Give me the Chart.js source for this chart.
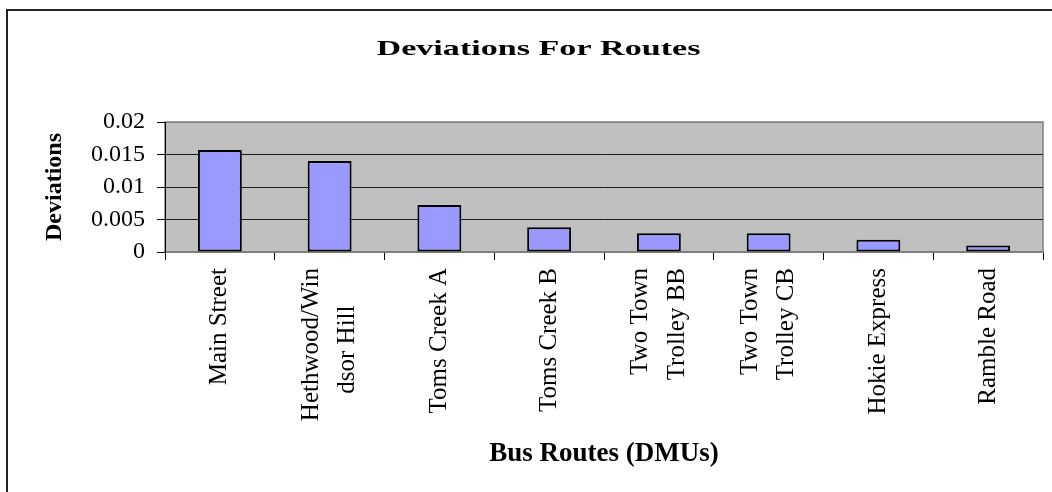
<!DOCTYPE html>
<html><head><meta charset="utf-8">
<script src="https://cdn.jsdelivr.net/npm/chart.js@4.4.1/dist/chart.umd.min.js"></script>
<style>
html,body{margin:0;padding:0;background:#fff;width:1052px;height:492px;overflow:hidden;}
#frame{position:absolute;left:6px;top:9px;width:1100px;height:600px;border:2px solid #222;box-sizing:border-box;}
#c{position:absolute;left:0;top:0;}
</style></head><body>
<div id="frame"></div>
<canvas id="c" width="1052" height="492"></canvas>
<script>
// ---- data ----
const chartTitle = 'Deviations For Routes';
const xAxisTitle = 'Bus Routes (DMUs)';
const yAxisTitle = 'Deviations';
const categories = ['Main Street', ['Hethwood/Win', 'dsor Hill      '], 'Toms Creek A', 'Toms Creek B',
  ['Two Town', 'Trolley BB'], ['Two Town', 'Trolley CB'], 'Hokie Express', 'Ramble Road'];
const deviations = [0.0157, 0.014, 0.00725, 0.0038, 0.0029, 0.0029, 0.0019, 0.001];
const yTickLabels = ['0', '0.005', '0.01', '0.015', '0.02'];
const yMin = 0, yMax = 0.02, yStep = 0.005;

// ---- style ----
const SERIF = "'Liberation Serif', 'Times New Roman', serif";
const TITLE_STRETCH = 1.55;
const TITLE_SHIFT = -1;

const plotBg = {
  id: 'plotBg',
  beforeDraw(chart) {
    const {ctx, chartArea: a} = chart;
    ctx.save();
    ctx.fillStyle = '#c0c0c0';
    ctx.fillRect(a.left, a.top, a.right - a.left, a.bottom - a.top);
    ctx.strokeStyle = '#808080';
    ctx.lineWidth = 1.5;
    ctx.strokeRect(a.left, a.top, a.right - a.left, a.bottom - a.top);
    ctx.restore();
    // center multi-line rotated category labels on their tick
    const xs = chart.scales.x;
    xs.getLabelItems().forEach((it) => {
      if (Array.isArray(it.label) && it.label.length > 1 && !it._centered) {
        it.textOffset -= it.font.lineHeight * (it.label.length - 1) / 2;
        it._centered = true;
      }
    });
  }
};
const titleStretch = {
  id: 'titleStretch',
  afterInit(chart) {
    const tb = chart.titleBlock;
    if (!tb) return;
    const orig = tb.draw;
    tb.draw = function () {
      const c = this.ctx;
      const mid = (this.left + this.right) / 2;
      c.save();
      c.translate(mid + TITLE_SHIFT, 0);
      c.scale(TITLE_STRETCH, 1);
      c.translate(-mid, 0);
      orig.apply(this, arguments);
      c.restore();
    };
  }
};

new Chart(document.getElementById('c'), {
  type: 'bar',
  data: {
    labels: categories,
    datasets: [{
      data: deviations,
      backgroundColor: '#9999ff',
      borderColor: '#000000',
      borderWidth: 2,
      borderSkipped: false,
      categoryPercentage: 1,
      barPercentage: 0.4
    }]
  },
  options: {
    responsive: false,
    devicePixelRatio: 1,
    animation: false,
    layout: {padding: {left: 36, right: 9, top: 0, bottom: 0}},
    plugins: {
      legend: {display: false},
      tooltip: {enabled: false},
      title: {
        display: true, text: chartTitle, color: '#000',
        font: {family: SERIF, size: 22, weight: 'bold', lineHeight: 1.2},
        padding: {top: 36.3, bottom: 59.3}
      }
    },
    scales: {
      x: {
        afterFit(s) { s.height = 240; },
        grid: {drawOnChartArea: false, drawTicks: true, tickLength: 8, color: '#000', offset: true},
        border: {display: true, color: '#808080', width: 1.5},
        ticks: {
          color: '#000', minRotation: 90, maxRotation: 90, autoSkip: false, padding: 8,
          font: {family: SERIF, size: 25, lineHeight: 1.45}
        },
        title: {
          display: true, text: xAxisTitle, color: '#000',
          font: {family: SERIF, size: 27, weight: 'bold', lineHeight: 1.2},
          padding: {top: 0, bottom: 22}
        }
      },
      y: {
        min: yMin, max: yMax,
        afterFit(s) { s.width = 129; },
        grid: {
          drawTicks: true, tickLength: 8, tickColor: '#000', lineWidth: 1,
          color: (c) => (c.tick && (c.tick.value === yMax || c.tick.value === yMin)) ? '#808080' : '#1a1a1a'
        },
        border: {display: true, color: '#000', width: 1},
        ticks: {
          stepSize: yStep, color: '#000', padding: 12,
          font: {family: SERIF, size: 24},
          callback: (v, i) => yTickLabels[i]
        },
        title: {
          display: true, text: yAxisTitle, color: '#000',
          font: {family: SERIF, size: 24, weight: 'bold', lineHeight: 1.2},
          padding: {top: 4, bottom: 0}
        }
      }
    }
  },
  plugins: [plotBg, titleStretch]
});
</script>
</body></html>
